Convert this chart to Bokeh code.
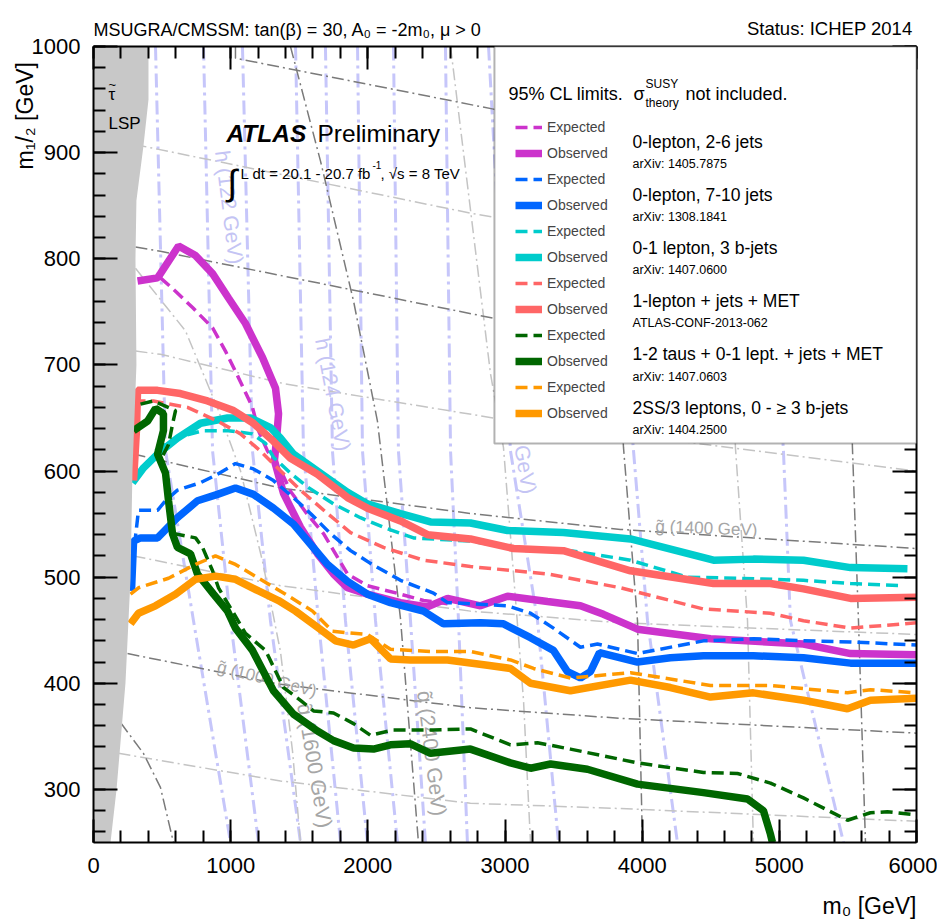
import math
from bokeh.plotting import figure
from bokeh.models import (Range1d, LinearAxis, SingleIntervalTicker, Label, BoxAnnotation,
                          Legend, LegendItem, CustomJSTickFormatter)
from bokeh.core.properties import value
from bokeh.embed import file_html
from bokeh.resources import INLINE

SANS = "Liberation Sans"

# ---------------- data (m0 [GeV], m1/2 [GeV]) ----------------
mag_obs_x = [321, 467, 488, 620, 744, 868, 984, 1108, 1232, 1327, 1349, 1334, 1319, 1385, 1509, 1633, 1750, 1852,
             1997, 2238, 2435, 2581, 2821, 3018, 3310, 3550, 3718, 3966, 4498, 5176, 5519, 6000]
mag_obs_y = [779, 782, 786, 812, 803, 786, 763, 739, 707, 678, 654, 629, 610, 579, 547, 522, 503, 490,
             484, 476, 472, 480, 473, 482, 477, 473, 465, 451, 442, 437, 428, 427]
mag_exp_x = [488, 576, 722, 868, 962, 1057, 1159, 1203, 1268, 1378, 1436, 1560, 1677, 1852, 1997, 2238, 2406, 2581]
mag_exp_y = [782, 772, 754, 735, 713, 688, 660, 638, 619, 597, 581, 559, 541, 503, 492, 484, 478, 475]

blue_obs_x = [277, 292, 343, 467, 612, 758, 904, 1035, 1166, 1312, 1458, 1582, 1706, 1852, 1997, 2165, 2406, 2552,
              2821, 2989, 3186, 3353, 3455, 3550, 3623, 3689, 3966, 4206, 4447, 4811, 5176, 5519, 6000]
blue_obs_y = [487, 534, 537, 537, 556, 572, 578, 584, 578, 565, 550, 531, 512, 496, 484, 476, 468, 456,
              457, 456, 443, 431, 411, 405, 411, 429, 420, 424, 426, 426, 424, 419, 419]
blue_exp_x = [284, 328, 467, 525, 612, 780, 904, 1035, 1166, 1312, 1458, 1582, 1728, 1874, 2019, 2238, 2479, 2581,
              2748, 3018, 3186, 3353, 3550, 3674, 3966, 4447, 4811, 5176, 5519, 6000]
blue_exp_y = [513, 563, 563, 572, 582, 589, 597, 607, 602, 591, 575, 560, 541, 525, 513, 497, 485, 476,
              475, 473, 466, 452, 434, 437, 428, 440, 442, 440, 439, 436]

cyan_obs_x = [284, 365, 467, 612, 780, 977, 1145, 1290, 1363, 1458, 1633, 1852, 1997, 2238, 2457, 2748, 3018,
              3426, 3915, 4520, 4811, 5176, 5519, 5934]
cyan_obs_y = [589, 603, 616, 631, 645, 650, 650, 641, 631, 616, 600, 580, 569, 560, 552, 551, 544,
              542, 536, 516, 517, 516, 509, 508]
cyan_exp_x = [452, 598, 795, 984, 1159, 1254, 1312, 1436, 1560, 1750, 1946, 2114, 2333, 2748, 3062, 3477, 3915,
              4330, 4695, 5176, 5519, 5905]
cyan_exp_y = [619, 631, 638, 638, 635, 626, 613, 598, 585, 569, 556, 547, 537, 534, 527, 525, 516,
              500, 499, 497, 494, 492]

red_obs_x = [292, 313, 321, 467, 634, 831, 1021, 1166, 1312, 1436, 1633, 1852, 1997, 2238, 2435, 2748, 3062,
             3426, 3915, 4520, 4935, 5176, 5519, 6000]
red_obs_y = [591, 638, 676, 676, 673, 666, 657, 645, 628, 612, 597, 575, 565, 553, 540, 536, 527,
             525, 506, 494, 494, 489, 480, 481]
red_exp_x = [292, 437, 685, 904, 1072, 1217, 1341, 1509, 1706, 1874, 2114, 2406, 2748, 3310, 3842, 4447, 4935,
             5176, 5519, 6000]
red_exp_y = [666, 666, 660, 647, 635, 619, 603, 582, 560, 542, 528, 516, 510, 503, 490, 470, 466,
             459, 452, 457]

green_obs_x = [292, 394, 452, 510, 510, 467, 525, 547, 576, 612, 707, 758, 875, 977, 1035, 1159, 1312, 1458, 1633,
               1750, 1896, 2041, 2165, 2311, 2457, 2748, 3040, 3186, 3332, 3601, 3966, 4447, 4768, 4884, 4935, 4950]
green_obs_y = [638, 647, 659, 654, 638, 616, 598, 572, 541, 528, 522, 503, 484, 468, 452, 431, 393, 371, 355,
               346, 339, 338, 342, 343, 334, 338, 325, 320, 324, 319, 305, 297, 291, 280, 258, 250]
green_exp_x = [343, 437, 598, 576, 547, 503, 525, 554, 590, 744, 795, 868, 911, 1013, 1108, 1254, 1385, 1509, 1604,
               1750, 1896, 2019, 2187, 2479, 2748, 3040, 3237, 3477, 3966, 4447, 4695, 4935, 5176, 5497, 5664,
               5788, 6000]
green_exp_y = [663, 666, 657, 644, 625, 614, 595, 567, 541, 537, 528, 506, 490, 468, 447, 431, 396, 384, 374,
               372, 362, 351, 356, 356, 357, 342, 344, 338, 325, 316, 315, 306, 292, 271, 278, 279, 276]

orange_obs_x = [270, 328, 452, 598, 744, 889, 1035, 1203, 1349, 1473, 1640, 1764, 1896, 2019, 2165, 2311, 2581,
                2872, 3040, 3186, 3477, 3915, 4206, 4498, 4811, 5176, 5497, 5664, 6000]
orange_obs_y = [456, 466, 473, 484, 498, 501, 498, 487, 478, 468, 452, 440, 436, 442, 423, 422, 422,
                417, 414, 400, 393, 403, 396, 387, 391, 384, 376, 384, 386]
orange_exp_x = [270, 328, 547, 744, 889, 1035, 1203, 1400, 1597, 1742, 1997, 2165, 2457, 2748, 3040, 3208, 3477,
                3915, 4498, 4935, 5497, 5664, 6000]
orange_exp_y = [484, 490, 499, 512, 520, 512, 499, 484, 468, 449, 446, 432, 430, 430, 422, 414, 405,
                410, 398, 398, 391, 394, 391]

# stau-LSP excluded region boundary
lsp_x = [0, 401, 401, 364, 313, 306, 313, 284, 270, 233, 168, 124, 0]
lsp_y = [1000, 1000, 950, 906, 855, 800, 700, 600, 499, 400, 300, 250, 250]

# gluino / squark mass contours (dark = labelled, light = intermediate)
grey_dark = [
    ([1035, 1035, 2916, 6000], [1000, 989, 941, 850]),
    ([306, 488, 2916, 6000], [811, 807, 744, 680]),
    ([292, 1363, 2748, 3842, 6000], [616, 584, 560, 545, 527]),
    ([248, 1363, 2748, 3842, 6000], [428, 399, 377, 367, 353]),
    ([197, 364, 488, 583], [363, 334, 302, 250]),
    ([1436, 1655, 1896, 2070, 2238, 2369], [1000, 892, 760, 647, 461, 250]),
    ([3700, 3864, 3966, 4002], [1000, 622, 459, 250]),
    ([5450, 5533, 5577, 5628], [1000, 622, 459, 250]),
]
grey_light = [
    ([300, 364, 2748, 6000], [908, 906, 843, 770]),
    ([306, 488, 1400, 2916, 6000], [713, 710, 682, 650, 600]),
    ([292, 1363, 2748, 3842, 6000], [520, 492, 468, 457, 446]),
    ([182, 1363, 2748, 3842, 6000], [334, 308, 287, 282, 270]),
    ([306, 671, 911, 1072, 1232, 1363, 1451, 1509], [791, 732, 657, 600, 515, 430, 336, 250]),
    ([2603, 2894, 2989, 3135, 3186], [1000, 692, 622, 384, 250]),
    ([4580, 4680, 4768, 4811], [1000, 622, 459, 250]),
]
# light Higgs mass contours
higgs_y = [1000, 619, 459, 250]
higgs_x = [
    [452, 525, 729, 999],
    [802, 868, 999, 1203],
    [1086, 1159, 1290, 1509],
    [1473, 1531, 1640, 1801],
    [1691, 1742, 1837, 1997],
    [1925, 1961, 2056, 2216],
    [2187, 2223, 2311, 2420],
    [2566, 2603, 2661, 2726],
    [2880, 3040, 3237, 3390],
    [3696, 3937, 4039, 4257],
    [4862, 5030, 5081, 5468],
]

analyses = [
    ("0-lepton, 2-6 jets", "arXiv: 1405.7875", "#cc33cc", mag_exp_x, mag_exp_y, mag_obs_x, mag_obs_y),
    ("0-lepton, 7-10 jets", "arXiv: 1308.1841", "#0066ff", blue_exp_x, blue_exp_y, blue_obs_x, blue_obs_y),
    ("0-1 lepton, 3 b-jets", "arXiv: 1407.0600", "#00cccc", cyan_exp_x, cyan_exp_y, cyan_obs_x, cyan_obs_y),
    ("1-lepton + jets + MET", "ATLAS-CONF-2013-062", "#ff6666", red_exp_x, red_exp_y, red_obs_x, red_obs_y),
    ("1-2 taus + 0-1 lept. + jets + MET", "arXiv: 1407.0603", "#006600", green_exp_x, green_exp_y, green_obs_x, green_obs_y),
    ("2SS/3 leptons, 0 - \u2265 3 b-jets", "arXiv: 1404.2500", "#ff9900", orange_exp_x, orange_exp_y, orange_obs_x, orange_obs_y),
]

# ---------------- figure ----------------
W, H = 937, 924
FL, FR, FT, FB = 93, 916, 46, 842

p = figure(width=W, height=H, x_range=Range1d(0, 6000), y_range=Range1d(250, 1000),
           output_backend="svg", toolbar_location=None, x_axis_type=None, y_axis_type=None,
           min_border_left=FL, min_border_right=W - FR, min_border_top=FT, min_border_bottom=H - FB)
p.outline_line_color = None
p.background_fill_color = "white"


def make_axis(interval, side, labels):
    ax = LinearAxis(ticker=SingleIntervalTicker(interval=interval, num_minor_ticks=5))
    ax.axis_line_width = 2
    ax.axis_line_color = "black"
    ax.major_tick_in = 24 if side in ("left", "right") else 23
    ax.major_tick_out = 0
    ax.minor_tick_in = 12
    ax.minor_tick_out = 0
    ax.major_tick_line_width = 2
    ax.minor_tick_line_width = 2
    if labels:
        ax.major_label_text_font = SANS
        ax.major_label_text_font_size = "22px"
        ax.major_label_text_color = "black"
        ax.major_label_standoff = 13 if side == "left" else 15
    else:
        ax.formatter = CustomJSTickFormatter(code="return ''")
        ax.major_label_standoff = 0
        ax.major_label_text_font_size = "1px"
    p.add_layout(ax, side)


make_axis(1000, "below", True)
make_axis(100, "left", True)
make_axis(1000, "above", False)
make_axis(100, "right", False)

# background contours
for hx in higgs_x:
    p.line(hx, higgs_y, line_color="#c6c6fa", line_width=3, line_dash="14 5 3 5")
for gx, gy in grey_light:
    p.line(gx, gy, line_color="#c4c4c4", line_width=1.5, line_dash="12 4 2 4")
for gx, gy in grey_dark:
    p.line(gx, gy, line_color="#7a7a7a", line_width=1.5, line_dash="12 4 2 4")


def bg_text(x, y, t, ang, color, size, baseline="middle"):
    p.text(x=[x], y=[y], text=[t], angle=ang, text_font=value(SANS), text_font_size=size,
           text_color=color, text_align="left", text_baseline=baseline)


bg_text(940, 902, "h (122 GeV)", -1.447, "#c4c4f4", "21px")
bg_text(1669, 725, "h (124 GeV)", -1.379, "#c4c4f4", "21px")
bg_text(3040, 685, "h (126 GeV)", -1.40, "#c4c4f4", "21px")
bg_text(1538, 381, "q\u0303 (1600 GeV)", -1.403, "#a6a6a6", "21px")
bg_text(2413, 393, "q\u0303 (2400 GeV)", -1.449, "#a6a6a6", "21px")
bg_text(904, 416, "g\u0303 (1000 GeV)", -0.25, "#a6a6a6", "17px", "alphabetic")
bg_text(4097, 548, "g\u0303 (1400 GeV)", -0.04, "#a6a6a6", "17px", "alphabetic")

# limit curves
items = []
for name, ref, col, ex, ey, ox, oy in analyses:
    r_exp = p.line(ex, ey, line_color=col, line_width=3.5, line_dash="12 6")
    r_obs = p.line(ox, oy, line_color=col, line_width=7.5)
    items.append(LegendItem(label="Expected", renderers=[r_exp]))
    items.append(LegendItem(label="Observed", renderers=[r_obs]))

# stau LSP region
p.patch(lsp_x, lsp_y, fill_color="#c8c8c8", line_color=None)

# legend box
p.add_layout(BoxAnnotation(left=2923, right=6000, bottom=626, top=1000, fill_color="white", fill_alpha=1.0,
                           line_color="black", line_width=2, level="annotation"))

legend = Legend(items=items, location=(515 - FL, FB - 423), orientation="vertical", padding=0, margin=0,
                spacing=6, label_height=20, glyph_height=20, glyph_width=27, label_standoff=5,
                label_text_font=SANS, label_text_font_size="14px", border_line_color=None,
                background_fill_alpha=0)
p.add_layout(legend)


def txt(t, px, py, size, style="normal", color="black", align="left"):
    p.add_layout(Label(x=px - FL, y=FB - py, x_units="screen", y_units="screen", text=t, text_font=SANS,
                       text_font_size=f"{size}px", text_font_style=style, text_color=color,
                       text_align=align, text_baseline="alphabetic"))


# legend texts
txt("95% CL limits.", 508, 93, 18)
txt("\u03c3", 633, 93, 18)
txt("SUSY", 645, 83, 12)
txt("theory", 645, 102, 12)
txt("not included.", 685, 93, 18)
name_base = [141, 194, 247, 300, 353, 407]
ref_base = [163, 216, 269, 322, 376, 429]
for (name, ref, *_), nb, rb in zip(analyses, name_base, ref_base):
    txt(name, 632, nb, 17.5)
    txt(ref, 632, rb, 12.5)

# in-plot labels
txt("~", 108, 84, 13)
txt("\u03c4", 108, 94, 17)
txt("LSP", 108, 123, 17)
txt("ATLAS", 226, 133, 24.5, "bold italic")
txt("Preliminary", 317, 133, 24.5)
txt("\u222b", 227, 182, 36)
txt("L dt = 20.1 - 20.7 fb", 240, 173, 15)
txt("-1", 372, 164, 10)
txt(", \u221as = 8 TeV", 380, 173, 15)


# texts outside the frame: annotations in side panels (not clipped), placed in data units
def side_txt(side, t, x, y, size, align="left", angle=0.0):
    p.add_layout(Label(x=x, y=y, text=t, text_font=SANS, text_font_size=f"{size}px", text_color="black",
                       text_align=align, text_baseline="alphabetic", angle=angle), side)


side_txt("above", "MSUGRA/CMSSM: tan(\u03b2) = 30, A\u2080 = -2m\u2080, \u03bc > 0", 0, 1015.7, 18)
side_txt("above", "Status: ICHEP 2014", 5971, 1016.7, 18.5, align="right")
side_txt("below", "m\u2080 [GeV]", 6000, 190, 23, align="right")
side_txt("left", "m\u2081/\u2082 [GeV]", -503, 934.7, 23, align="center", angle=math.pi / 2)

open("out.html", "w").write(file_html(p, INLINE))
